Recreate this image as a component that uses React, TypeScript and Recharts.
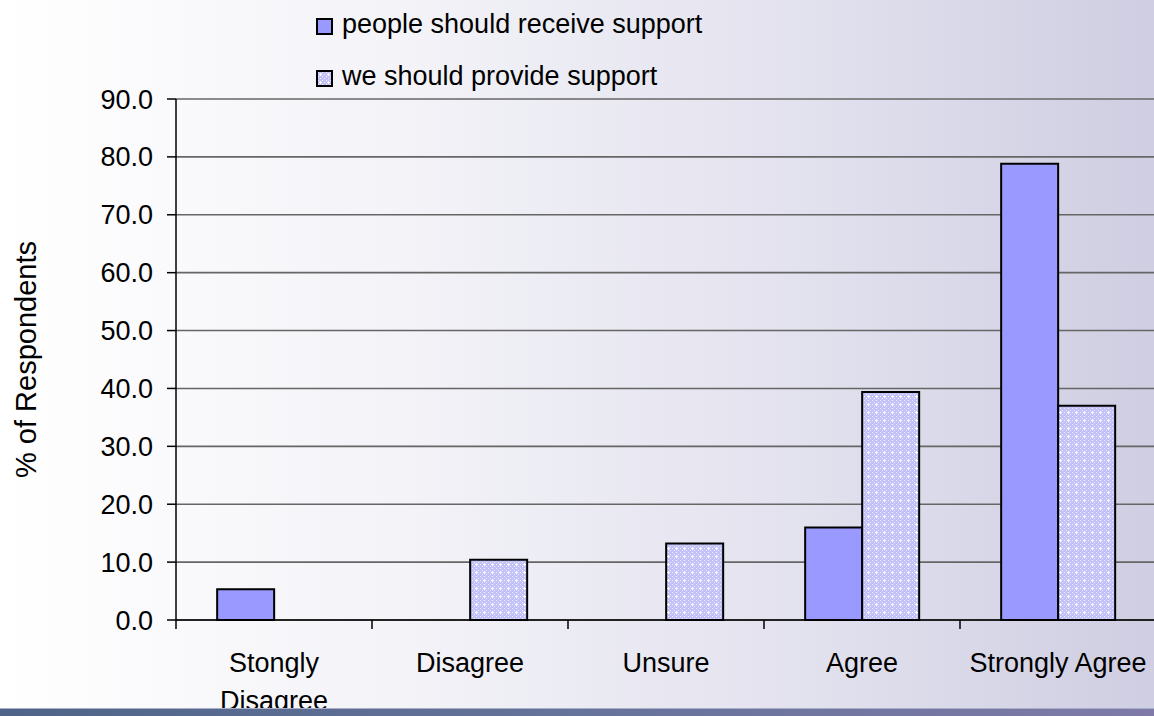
import React from "react";
import {
  BarChart,
  Bar,
  XAxis,
  YAxis,
  CartesianGrid,
  Legend,
} from "recharts";

// survey answers, one band per answer
const categories = ["Stongly Disagree", "Disagree", "Unsure", "Agree", "Strongly Agree"];
const tickLines: string[][] = [
  ["Stongly", "Disagree"],
  ["Disagree"],
  ["Unsure"],
  ["Agree"],
  ["Strongly Agree"],
];
const receiveSupport: (number | null)[] = [5.3, null, null, 16.0, 78.8];
const provideSupport: (number | null)[] = [null, 10.4, 13.2, 39.4, 37.0];
const yTicks = [0, 10, 20, 30, 40, 50, 60, 70, 80, 90];

const FONT = '"Liberation Sans", Arial, sans-serif';
const CHART_W = 1170;
const CHART_H = 716;
const MARGIN = { top: 99, right: 14, bottom: 0, left: 0 };
const Y_AXIS_W = 176;
const X_AXIS_H = 96;
const PLOT_W = CHART_W - MARGIN.left - MARGIN.right - Y_AXIS_W;
const BAND = PLOT_W / categories.length;

const data = categories.map((c, i) => ({
  cat: c,
  receive: receiveSupport[i],
  provide: provideSupport[i],
}));

function CatTick(props: any) {
  const { x, y, payload, index } = props;
  const idx = payload.index ?? index;
  const lines = tickLines[idx] ?? [String(payload.value)];
  const last = idx === categories.length - 1;
  return (
    <g>
      <line x1={x - BAND / 2} x2={x - BAND / 2} y1={y} y2={y + 9} stroke="#000" strokeWidth={1.5} />
      {last && (
        <line x1={x + BAND / 2} x2={x + BAND / 2} y1={y} y2={y + 9} stroke="#000" strokeWidth={1.5} />
      )}
      {lines.map((t, i) => (
        <text
          key={i}
          x={x}
          y={y + 52 + i * 38}
          textAnchor="middle"
          fontSize={27}
          fontFamily={FONT}
          fill="#000"
        >
          {t}
        </text>
      ))}
    </g>
  );
}

function LegendBox(props: any) {
  const items = props.payload ?? [];
  return (
    <div style={{ fontFamily: FONT, fontSize: 27, color: "#000" }}>
      {items.map((e: any) => (
        <div key={e.value} style={{ display: "flex", alignItems: "center", height: 52 }}>
          <svg width={17} height={17} style={{ display: "block" }}>
            <rect x={1} y={1} width={15} height={15} fill={e.color} stroke="#000" strokeWidth={2} />
          </svg>
          <span style={{ marginLeft: 9, lineHeight: "30px", marginTop: -4 }}>{e.value}</span>
        </div>
      ))}
    </div>
  );
}

export default function App() {
  return (
    <div
      style={{
        position: "absolute",
        left: 0,
        top: 0,
        width: 1154,
        height: 716,
        overflow: "hidden",
        fontFamily: FONT,
        background: "linear-gradient(90deg, #ffffff 0%, #f3f3f8 35%, #e2e1ee 70%, #cfcee2 100%)",
      }}
    >
      <BarChart
        width={CHART_W}
        height={CHART_H}
        data={data}
        margin={MARGIN}
        barCategoryGap="21%"
        barGap={0}
      >
        <defs>
          <pattern id="dots" width="8" height="8" patternUnits="userSpaceOnUse">
            <rect width="8" height="8" fill="#c2c2f8" />
            <rect x="0" y="0" width="1" height="1" fill="#f0f0ff" />
            <rect x="2" y="2" width="1" height="1" fill="#f0f0ff" />
            <rect x="6" y="2" width="1" height="1" fill="#f0f0ff" />
            <rect x="2" y="6" width="1" height="1" fill="#f0f0ff" />
            <rect x="6" y="6" width="1" height="1" fill="#f0f0ff" />
            <rect x="4" y="0" width="1" height="1" fill="#f0f0ff" />
            <rect x="0" y="4" width="1" height="1" fill="#f0f0ff" />
            <rect x="3" y="4" width="3" height="1" fill="#ffffff" />
            <rect x="4" y="3" width="1" height="3" fill="#ffffff" />
          </pattern>
        </defs>
        <CartesianGrid vertical={false} stroke="#666" strokeWidth={1.6} />
        <XAxis
          dataKey="cat"
          height={X_AXIS_H}
          interval={0}
          tickLine={false}
          tickSize={0}
          tickMargin={0}
          axisLine={{ stroke: "#000", strokeWidth: 1.5 }}
          tick={<CatTick />}
        />
        <YAxis
          width={Y_AXIS_W}
          domain={[0, 90]}
          ticks={yTicks}
          interval={0}
          tickSize={9}
          tickMargin={14}
          tickFormatter={(v: number) => v.toFixed(1)}
          axisLine={{ stroke: "#000", strokeWidth: 1.5 }}
          tickLine={{ stroke: "#000", strokeWidth: 1.5 }}
          tick={{ fontSize: 27, fontFamily: FONT, fill: "#000" }}
          label={{
            value: "% of Respondents",
            angle: -90,
            position: "insideLeft",
            offset: 26,
            fontSize: 29,
            fontFamily: FONT,
            fill: "#000",
            style: { textAnchor: "middle" },
          }}
        />
        <Legend
          layout="horizontal"
          verticalAlign="middle"
          align="center"
          content={<LegendBox />}
          wrapperStyle={{ top: 0, left: 316, width: "auto" }}
        />
        <Bar
          dataKey="receive"
          name="people should receive support"
          fill="#9999ff"
          stroke="#000"
          strokeWidth={2}
          isAnimationActive={false}
        />
        <Bar
          dataKey="provide"
          name="we should provide support"
          fill="url(#dots)"
          stroke="#000"
          strokeWidth={2}
          isAnimationActive={false}
        />
      </BarChart>
      <div
        style={{
          position: "absolute",
          left: 0,
          top: 708,
          width: 1154,
          height: 8,
          background: "linear-gradient(90deg, #4f6488 0%, #66739a 50%, #7f7aa8 100%)",
          borderTop: "1px solid #a7b0c8",
          boxSizing: "border-box",
        }}
      />
    </div>
  );
}
